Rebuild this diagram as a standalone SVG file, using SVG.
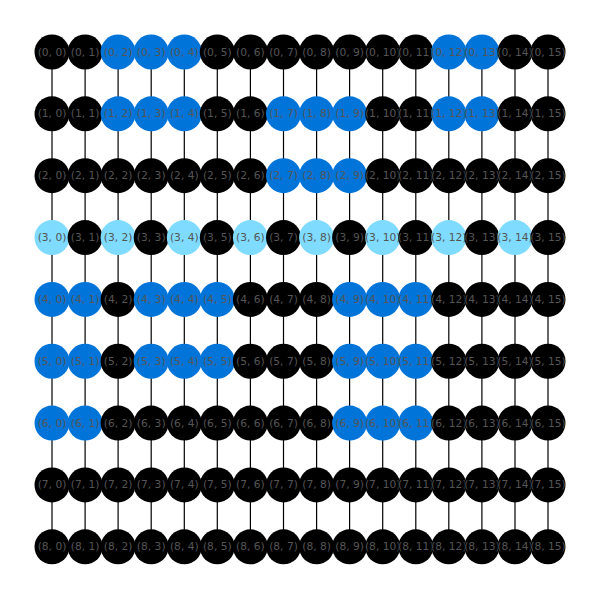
<svg xmlns="http://www.w3.org/2000/svg" width="600" height="600" viewBox="0 0 600 600">
<style>
.e line{stroke:#000;stroke-width:1.2}
circle{r:17.5}
.k{fill:#000}.b{fill:#0074D9}.a{fill:#7FDBFF}
text{font-family:"DejaVu Sans","Liberation Sans",sans-serif;font-size:10.7px;fill:#555;text-anchor:middle;dominant-baseline:central}
</style>
<rect width="600" height="600" fill="#fff"/>
<g id="edges" class="e">
<line x1="52" y1="52" x2="52" y2="546.8"/>
<line x1="85.1" y1="52" x2="85.1" y2="546.8"/>
<line x1="118.1" y1="52" x2="118.1" y2="546.8"/>
<line x1="151.2" y1="52" x2="151.2" y2="546.8"/>
<line x1="184.3" y1="52" x2="184.3" y2="546.8"/>
<line x1="217.3" y1="52" x2="217.3" y2="546.8"/>
<line x1="250.4" y1="52" x2="250.4" y2="546.8"/>
<line x1="283.5" y1="52" x2="283.5" y2="546.8"/>
<line x1="316.6" y1="52" x2="316.6" y2="546.8"/>
<line x1="349.6" y1="52" x2="349.6" y2="546.8"/>
<line x1="382.7" y1="52" x2="382.7" y2="546.8"/>
<line x1="415.8" y1="52" x2="415.8" y2="546.8"/>
<line x1="448.8" y1="52" x2="448.8" y2="546.8"/>
<line x1="481.9" y1="52" x2="481.9" y2="546.8"/>
<line x1="515" y1="52" x2="515" y2="546.8"/>
<line x1="548" y1="52" x2="548" y2="546.8"/>
</g>
<g id="n0-0"><circle class="k" cx="52" cy="52" r="17.5"/><text x="52" y="52">(0, 0)</text></g>
<g id="n0-1"><circle class="k" cx="85.1" cy="52" r="17.5"/><text x="85.1" y="52">(0, 1)</text></g>
<g id="n0-2"><circle class="b" cx="118.1" cy="52" r="17.5"/><text x="118.1" y="52">(0, 2)</text></g>
<g id="n0-3"><circle class="b" cx="151.2" cy="52" r="17.5"/><text x="151.2" y="52">(0, 3)</text></g>
<g id="n0-4"><circle class="b" cx="184.3" cy="52" r="17.5"/><text x="184.3" y="52">(0, 4)</text></g>
<g id="n0-5"><circle class="k" cx="217.3" cy="52" r="17.5"/><text x="217.3" y="52">(0, 5)</text></g>
<g id="n0-6"><circle class="k" cx="250.4" cy="52" r="17.5"/><text x="250.4" y="52">(0, 6)</text></g>
<g id="n0-7"><circle class="k" cx="283.5" cy="52" r="17.5"/><text x="283.5" y="52">(0, 7)</text></g>
<g id="n0-8"><circle class="k" cx="316.6" cy="52" r="17.5"/><text x="316.6" y="52">(0, 8)</text></g>
<g id="n0-9"><circle class="k" cx="349.6" cy="52" r="17.5"/><text x="349.6" y="52">(0, 9)</text></g>
<g id="n0-10"><circle class="k" cx="382.7" cy="52" r="17.5"/><text x="382.7" y="52">(0, 10)</text></g>
<g id="n0-11"><circle class="k" cx="415.8" cy="52" r="17.5"/><text x="415.8" y="52">(0, 11)</text></g>
<g id="n0-12"><circle class="b" cx="448.8" cy="52" r="17.5"/><text x="448.8" y="52">(0, 12)</text></g>
<g id="n0-13"><circle class="b" cx="481.9" cy="52" r="17.5"/><text x="481.9" y="52">(0, 13)</text></g>
<g id="n0-14"><circle class="k" cx="515" cy="52" r="17.5"/><text x="515" y="52">(0, 14)</text></g>
<g id="n0-15"><circle class="k" cx="548" cy="52" r="17.5"/><text x="548" y="52">(0, 15)</text></g>
<g id="n1-0"><circle class="k" cx="52" cy="113.85" r="17.5"/><text x="52" y="113.85">(1, 0)</text></g>
<g id="n1-1"><circle class="k" cx="85.1" cy="113.85" r="17.5"/><text x="85.1" y="113.85">(1, 1)</text></g>
<g id="n1-2"><circle class="b" cx="118.1" cy="113.85" r="17.5"/><text x="118.1" y="113.85">(1, 2)</text></g>
<g id="n1-3"><circle class="b" cx="151.2" cy="113.85" r="17.5"/><text x="151.2" y="113.85">(1, 3)</text></g>
<g id="n1-4"><circle class="b" cx="184.3" cy="113.85" r="17.5"/><text x="184.3" y="113.85">(1, 4)</text></g>
<g id="n1-5"><circle class="k" cx="217.3" cy="113.85" r="17.5"/><text x="217.3" y="113.85">(1, 5)</text></g>
<g id="n1-6"><circle class="k" cx="250.4" cy="113.85" r="17.5"/><text x="250.4" y="113.85">(1, 6)</text></g>
<g id="n1-7"><circle class="b" cx="283.5" cy="113.85" r="17.5"/><text x="283.5" y="113.85">(1, 7)</text></g>
<g id="n1-8"><circle class="b" cx="316.6" cy="113.85" r="17.5"/><text x="316.6" y="113.85">(1, 8)</text></g>
<g id="n1-9"><circle class="b" cx="349.6" cy="113.85" r="17.5"/><text x="349.6" y="113.85">(1, 9)</text></g>
<g id="n1-10"><circle class="k" cx="382.7" cy="113.85" r="17.5"/><text x="382.7" y="113.85">(1, 10)</text></g>
<g id="n1-11"><circle class="k" cx="415.8" cy="113.85" r="17.5"/><text x="415.8" y="113.85">(1, 11)</text></g>
<g id="n1-12"><circle class="b" cx="448.8" cy="113.85" r="17.5"/><text x="448.8" y="113.85">(1, 12)</text></g>
<g id="n1-13"><circle class="b" cx="481.9" cy="113.85" r="17.5"/><text x="481.9" y="113.85">(1, 13)</text></g>
<g id="n1-14"><circle class="k" cx="515" cy="113.85" r="17.5"/><text x="515" y="113.85">(1, 14)</text></g>
<g id="n1-15"><circle class="k" cx="548" cy="113.85" r="17.5"/><text x="548" y="113.85">(1, 15)</text></g>
<g id="n2-0"><circle class="k" cx="52" cy="175.7" r="17.5"/><text x="52" y="175.7">(2, 0)</text></g>
<g id="n2-1"><circle class="k" cx="85.1" cy="175.7" r="17.5"/><text x="85.1" y="175.7">(2, 1)</text></g>
<g id="n2-2"><circle class="k" cx="118.1" cy="175.7" r="17.5"/><text x="118.1" y="175.7">(2, 2)</text></g>
<g id="n2-3"><circle class="k" cx="151.2" cy="175.7" r="17.5"/><text x="151.2" y="175.7">(2, 3)</text></g>
<g id="n2-4"><circle class="k" cx="184.3" cy="175.7" r="17.5"/><text x="184.3" y="175.7">(2, 4)</text></g>
<g id="n2-5"><circle class="k" cx="217.3" cy="175.7" r="17.5"/><text x="217.3" y="175.7">(2, 5)</text></g>
<g id="n2-6"><circle class="k" cx="250.4" cy="175.7" r="17.5"/><text x="250.4" y="175.7">(2, 6)</text></g>
<g id="n2-7"><circle class="b" cx="283.5" cy="175.7" r="17.5"/><text x="283.5" y="175.7">(2, 7)</text></g>
<g id="n2-8"><circle class="b" cx="316.6" cy="175.7" r="17.5"/><text x="316.6" y="175.7">(2, 8)</text></g>
<g id="n2-9"><circle class="b" cx="349.6" cy="175.7" r="17.5"/><text x="349.6" y="175.7">(2, 9)</text></g>
<g id="n2-10"><circle class="k" cx="382.7" cy="175.7" r="17.5"/><text x="382.7" y="175.7">(2, 10)</text></g>
<g id="n2-11"><circle class="k" cx="415.8" cy="175.7" r="17.5"/><text x="415.8" y="175.7">(2, 11)</text></g>
<g id="n2-12"><circle class="k" cx="448.8" cy="175.7" r="17.5"/><text x="448.8" y="175.7">(2, 12)</text></g>
<g id="n2-13"><circle class="k" cx="481.9" cy="175.7" r="17.5"/><text x="481.9" y="175.7">(2, 13)</text></g>
<g id="n2-14"><circle class="k" cx="515" cy="175.7" r="17.5"/><text x="515" y="175.7">(2, 14)</text></g>
<g id="n2-15"><circle class="k" cx="548" cy="175.7" r="17.5"/><text x="548" y="175.7">(2, 15)</text></g>
<g id="n3-0"><circle class="a" cx="52" cy="237.55" r="17.5"/><text x="52" y="237.55">(3, 0)</text></g>
<g id="n3-1"><circle class="k" cx="85.1" cy="237.55" r="17.5"/><text x="85.1" y="237.55">(3, 1)</text></g>
<g id="n3-2"><circle class="a" cx="118.1" cy="237.55" r="17.5"/><text x="118.1" y="237.55">(3, 2)</text></g>
<g id="n3-3"><circle class="k" cx="151.2" cy="237.55" r="17.5"/><text x="151.2" y="237.55">(3, 3)</text></g>
<g id="n3-4"><circle class="a" cx="184.3" cy="237.55" r="17.5"/><text x="184.3" y="237.55">(3, 4)</text></g>
<g id="n3-5"><circle class="k" cx="217.3" cy="237.55" r="17.5"/><text x="217.3" y="237.55">(3, 5)</text></g>
<g id="n3-6"><circle class="a" cx="250.4" cy="237.55" r="17.5"/><text x="250.4" y="237.55">(3, 6)</text></g>
<g id="n3-7"><circle class="k" cx="283.5" cy="237.55" r="17.5"/><text x="283.5" y="237.55">(3, 7)</text></g>
<g id="n3-8"><circle class="a" cx="316.6" cy="237.55" r="17.5"/><text x="316.6" y="237.55">(3, 8)</text></g>
<g id="n3-9"><circle class="k" cx="349.6" cy="237.55" r="17.5"/><text x="349.6" y="237.55">(3, 9)</text></g>
<g id="n3-10"><circle class="a" cx="382.7" cy="237.55" r="17.5"/><text x="382.7" y="237.55">(3, 10)</text></g>
<g id="n3-11"><circle class="k" cx="415.8" cy="237.55" r="17.5"/><text x="415.8" y="237.55">(3, 11)</text></g>
<g id="n3-12"><circle class="a" cx="448.8" cy="237.55" r="17.5"/><text x="448.8" y="237.55">(3, 12)</text></g>
<g id="n3-13"><circle class="k" cx="481.9" cy="237.55" r="17.5"/><text x="481.9" y="237.55">(3, 13)</text></g>
<g id="n3-14"><circle class="a" cx="515" cy="237.55" r="17.5"/><text x="515" y="237.55">(3, 14)</text></g>
<g id="n3-15"><circle class="k" cx="548" cy="237.55" r="17.5"/><text x="548" y="237.55">(3, 15)</text></g>
<g id="n4-0"><circle class="b" cx="52" cy="299.4" r="17.5"/><text x="52" y="299.4">(4, 0)</text></g>
<g id="n4-1"><circle class="b" cx="85.1" cy="299.4" r="17.5"/><text x="85.1" y="299.4">(4, 1)</text></g>
<g id="n4-2"><circle class="k" cx="118.1" cy="299.4" r="17.5"/><text x="118.1" y="299.4">(4, 2)</text></g>
<g id="n4-3"><circle class="b" cx="151.2" cy="299.4" r="17.5"/><text x="151.2" y="299.4">(4, 3)</text></g>
<g id="n4-4"><circle class="b" cx="184.3" cy="299.4" r="17.5"/><text x="184.3" y="299.4">(4, 4)</text></g>
<g id="n4-5"><circle class="b" cx="217.3" cy="299.4" r="17.5"/><text x="217.3" y="299.4">(4, 5)</text></g>
<g id="n4-6"><circle class="k" cx="250.4" cy="299.4" r="17.5"/><text x="250.4" y="299.4">(4, 6)</text></g>
<g id="n4-7"><circle class="k" cx="283.5" cy="299.4" r="17.5"/><text x="283.5" y="299.4">(4, 7)</text></g>
<g id="n4-8"><circle class="k" cx="316.6" cy="299.4" r="17.5"/><text x="316.6" y="299.4">(4, 8)</text></g>
<g id="n4-9"><circle class="b" cx="349.6" cy="299.4" r="17.5"/><text x="349.6" y="299.4">(4, 9)</text></g>
<g id="n4-10"><circle class="b" cx="382.7" cy="299.4" r="17.5"/><text x="382.7" y="299.4">(4, 10)</text></g>
<g id="n4-11"><circle class="b" cx="415.8" cy="299.4" r="17.5"/><text x="415.8" y="299.4">(4, 11)</text></g>
<g id="n4-12"><circle class="k" cx="448.8" cy="299.4" r="17.5"/><text x="448.8" y="299.4">(4, 12)</text></g>
<g id="n4-13"><circle class="k" cx="481.9" cy="299.4" r="17.5"/><text x="481.9" y="299.4">(4, 13)</text></g>
<g id="n4-14"><circle class="k" cx="515" cy="299.4" r="17.5"/><text x="515" y="299.4">(4, 14)</text></g>
<g id="n4-15"><circle class="k" cx="548" cy="299.4" r="17.5"/><text x="548" y="299.4">(4, 15)</text></g>
<g id="n5-0"><circle class="b" cx="52" cy="361.25" r="17.5"/><text x="52" y="361.25">(5, 0)</text></g>
<g id="n5-1"><circle class="b" cx="85.1" cy="361.25" r="17.5"/><text x="85.1" y="361.25">(5, 1)</text></g>
<g id="n5-2"><circle class="k" cx="118.1" cy="361.25" r="17.5"/><text x="118.1" y="361.25">(5, 2)</text></g>
<g id="n5-3"><circle class="b" cx="151.2" cy="361.25" r="17.5"/><text x="151.2" y="361.25">(5, 3)</text></g>
<g id="n5-4"><circle class="b" cx="184.3" cy="361.25" r="17.5"/><text x="184.3" y="361.25">(5, 4)</text></g>
<g id="n5-5"><circle class="b" cx="217.3" cy="361.25" r="17.5"/><text x="217.3" y="361.25">(5, 5)</text></g>
<g id="n5-6"><circle class="k" cx="250.4" cy="361.25" r="17.5"/><text x="250.4" y="361.25">(5, 6)</text></g>
<g id="n5-7"><circle class="k" cx="283.5" cy="361.25" r="17.5"/><text x="283.5" y="361.25">(5, 7)</text></g>
<g id="n5-8"><circle class="k" cx="316.6" cy="361.25" r="17.5"/><text x="316.6" y="361.25">(5, 8)</text></g>
<g id="n5-9"><circle class="b" cx="349.6" cy="361.25" r="17.5"/><text x="349.6" y="361.25">(5, 9)</text></g>
<g id="n5-10"><circle class="b" cx="382.7" cy="361.25" r="17.5"/><text x="382.7" y="361.25">(5, 10)</text></g>
<g id="n5-11"><circle class="b" cx="415.8" cy="361.25" r="17.5"/><text x="415.8" y="361.25">(5, 11)</text></g>
<g id="n5-12"><circle class="k" cx="448.8" cy="361.25" r="17.5"/><text x="448.8" y="361.25">(5, 12)</text></g>
<g id="n5-13"><circle class="k" cx="481.9" cy="361.25" r="17.5"/><text x="481.9" y="361.25">(5, 13)</text></g>
<g id="n5-14"><circle class="k" cx="515" cy="361.25" r="17.5"/><text x="515" y="361.25">(5, 14)</text></g>
<g id="n5-15"><circle class="k" cx="548" cy="361.25" r="17.5"/><text x="548" y="361.25">(5, 15)</text></g>
<g id="n6-0"><circle class="b" cx="52" cy="423.1" r="17.5"/><text x="52" y="423.1">(6, 0)</text></g>
<g id="n6-1"><circle class="b" cx="85.1" cy="423.1" r="17.5"/><text x="85.1" y="423.1">(6, 1)</text></g>
<g id="n6-2"><circle class="k" cx="118.1" cy="423.1" r="17.5"/><text x="118.1" y="423.1">(6, 2)</text></g>
<g id="n6-3"><circle class="k" cx="151.2" cy="423.1" r="17.5"/><text x="151.2" y="423.1">(6, 3)</text></g>
<g id="n6-4"><circle class="k" cx="184.3" cy="423.1" r="17.5"/><text x="184.3" y="423.1">(6, 4)</text></g>
<g id="n6-5"><circle class="k" cx="217.3" cy="423.1" r="17.5"/><text x="217.3" y="423.1">(6, 5)</text></g>
<g id="n6-6"><circle class="k" cx="250.4" cy="423.1" r="17.5"/><text x="250.4" y="423.1">(6, 6)</text></g>
<g id="n6-7"><circle class="k" cx="283.5" cy="423.1" r="17.5"/><text x="283.5" y="423.1">(6, 7)</text></g>
<g id="n6-8"><circle class="k" cx="316.6" cy="423.1" r="17.5"/><text x="316.6" y="423.1">(6, 8)</text></g>
<g id="n6-9"><circle class="b" cx="349.6" cy="423.1" r="17.5"/><text x="349.6" y="423.1">(6, 9)</text></g>
<g id="n6-10"><circle class="b" cx="382.7" cy="423.1" r="17.5"/><text x="382.7" y="423.1">(6, 10)</text></g>
<g id="n6-11"><circle class="b" cx="415.8" cy="423.1" r="17.5"/><text x="415.8" y="423.1">(6, 11)</text></g>
<g id="n6-12"><circle class="k" cx="448.8" cy="423.1" r="17.5"/><text x="448.8" y="423.1">(6, 12)</text></g>
<g id="n6-13"><circle class="k" cx="481.9" cy="423.1" r="17.5"/><text x="481.9" y="423.1">(6, 13)</text></g>
<g id="n6-14"><circle class="k" cx="515" cy="423.1" r="17.5"/><text x="515" y="423.1">(6, 14)</text></g>
<g id="n6-15"><circle class="k" cx="548" cy="423.1" r="17.5"/><text x="548" y="423.1">(6, 15)</text></g>
<g id="n7-0"><circle class="k" cx="52" cy="484.95" r="17.5"/><text x="52" y="484.95">(7, 0)</text></g>
<g id="n7-1"><circle class="k" cx="85.1" cy="484.95" r="17.5"/><text x="85.1" y="484.95">(7, 1)</text></g>
<g id="n7-2"><circle class="k" cx="118.1" cy="484.95" r="17.5"/><text x="118.1" y="484.95">(7, 2)</text></g>
<g id="n7-3"><circle class="k" cx="151.2" cy="484.95" r="17.5"/><text x="151.2" y="484.95">(7, 3)</text></g>
<g id="n7-4"><circle class="k" cx="184.3" cy="484.95" r="17.5"/><text x="184.3" y="484.95">(7, 4)</text></g>
<g id="n7-5"><circle class="k" cx="217.3" cy="484.95" r="17.5"/><text x="217.3" y="484.95">(7, 5)</text></g>
<g id="n7-6"><circle class="k" cx="250.4" cy="484.95" r="17.5"/><text x="250.4" y="484.95">(7, 6)</text></g>
<g id="n7-7"><circle class="k" cx="283.5" cy="484.95" r="17.5"/><text x="283.5" y="484.95">(7, 7)</text></g>
<g id="n7-8"><circle class="k" cx="316.6" cy="484.95" r="17.5"/><text x="316.6" y="484.95">(7, 8)</text></g>
<g id="n7-9"><circle class="k" cx="349.6" cy="484.95" r="17.5"/><text x="349.6" y="484.95">(7, 9)</text></g>
<g id="n7-10"><circle class="k" cx="382.7" cy="484.95" r="17.5"/><text x="382.7" y="484.95">(7, 10)</text></g>
<g id="n7-11"><circle class="k" cx="415.8" cy="484.95" r="17.5"/><text x="415.8" y="484.95">(7, 11)</text></g>
<g id="n7-12"><circle class="k" cx="448.8" cy="484.95" r="17.5"/><text x="448.8" y="484.95">(7, 12)</text></g>
<g id="n7-13"><circle class="k" cx="481.9" cy="484.95" r="17.5"/><text x="481.9" y="484.95">(7, 13)</text></g>
<g id="n7-14"><circle class="k" cx="515" cy="484.95" r="17.5"/><text x="515" y="484.95">(7, 14)</text></g>
<g id="n7-15"><circle class="k" cx="548" cy="484.95" r="17.5"/><text x="548" y="484.95">(7, 15)</text></g>
<g id="n8-0"><circle class="k" cx="52" cy="546.8" r="17.5"/><text x="52" y="546.8">(8, 0)</text></g>
<g id="n8-1"><circle class="k" cx="85.1" cy="546.8" r="17.5"/><text x="85.1" y="546.8">(8, 1)</text></g>
<g id="n8-2"><circle class="k" cx="118.1" cy="546.8" r="17.5"/><text x="118.1" y="546.8">(8, 2)</text></g>
<g id="n8-3"><circle class="k" cx="151.2" cy="546.8" r="17.5"/><text x="151.2" y="546.8">(8, 3)</text></g>
<g id="n8-4"><circle class="k" cx="184.3" cy="546.8" r="17.5"/><text x="184.3" y="546.8">(8, 4)</text></g>
<g id="n8-5"><circle class="k" cx="217.3" cy="546.8" r="17.5"/><text x="217.3" y="546.8">(8, 5)</text></g>
<g id="n8-6"><circle class="k" cx="250.4" cy="546.8" r="17.5"/><text x="250.4" y="546.8">(8, 6)</text></g>
<g id="n8-7"><circle class="k" cx="283.5" cy="546.8" r="17.5"/><text x="283.5" y="546.8">(8, 7)</text></g>
<g id="n8-8"><circle class="k" cx="316.6" cy="546.8" r="17.5"/><text x="316.6" y="546.8">(8, 8)</text></g>
<g id="n8-9"><circle class="k" cx="349.6" cy="546.8" r="17.5"/><text x="349.6" y="546.8">(8, 9)</text></g>
<g id="n8-10"><circle class="k" cx="382.7" cy="546.8" r="17.5"/><text x="382.7" y="546.8">(8, 10)</text></g>
<g id="n8-11"><circle class="k" cx="415.8" cy="546.8" r="17.5"/><text x="415.8" y="546.8">(8, 11)</text></g>
<g id="n8-12"><circle class="k" cx="448.8" cy="546.8" r="17.5"/><text x="448.8" y="546.8">(8, 12)</text></g>
<g id="n8-13"><circle class="k" cx="481.9" cy="546.8" r="17.5"/><text x="481.9" y="546.8">(8, 13)</text></g>
<g id="n8-14"><circle class="k" cx="515" cy="546.8" r="17.5"/><text x="515" y="546.8">(8, 14)</text></g>
<g id="n8-15"><circle class="k" cx="548" cy="546.8" r="17.5"/><text x="548" y="546.8">(8, 15)</text></g>
</svg>
